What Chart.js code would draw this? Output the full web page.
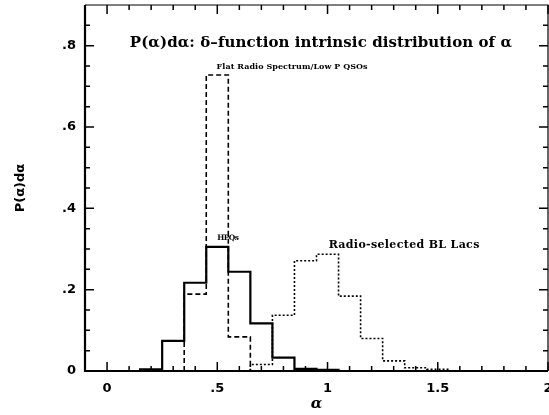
<!DOCTYPE html>
<html>
<head>
<meta charset="utf-8">
<script src="https://cdn.jsdelivr.net/npm/chart.js@4.4.0/dist/chart.umd.min.js"></script>
<style>
  html, body { margin: 0; padding: 0; background: #fff; }
</style>
</head>
<body>
<canvas id="myChart" width="549" height="415"></canvas>
<script>
const ctx = document.getElementById("myChart");

// histogram bins (left edges), width 0.1
const binLeft = [0.15, 0.25, 0.35, 0.45, 0.55, 0.65, 0.75, 0.85, 0.95, 1.05, 1.15, 1.25, 1.35, 1.45];
const binWidth = 0.1;

// values
const hpqValues  = [0.004, 0.074, 0.217, 0.305, 0.244, 0.117, 0.033, 0.005, 0.003, 0, 0, 0, 0, 0];
const flatValues = [0, 0, 0.189, 0.728, 0.084, 0, 0, 0, 0, 0, 0, 0, 0, 0];
const blLacValues = [0, 0, 0, 0, 0, 0.016, 0.137, 0.271, 0.287, 0.184, 0.080, 0.025, 0.008, 0.004];

const xTickValues = [0, 0.5, 1, 1.5, 2];
const xTickLabels = ["0", ".5", "1", "1.5", "2"];
const yTickValues = [0, 0.2, 0.4, 0.6, 0.8];
const yTickLabels = ["0", ".2", ".4", ".6", ".8"];

const titleText = "P(\u03b1)d\u03b1: \u03b4\u2013function intrinsic distribution of \u03b1";
const flatLabel = "Flat Radio Spectrum/Low P QSOs";
const hpqLabel = "HPQs";
const blLacLabel = "Radio-selected BL Lacs";

function histPoints(values) {
  let first = values.findIndex(v => v > 0);
  let last = values.length - 1;
  while (last > 0 && values[last] == 0) last--;
  let pts = [{ x: binLeft[first], y: 0 }];
  for (let i = first; i <= last; i++) {
    pts.push({ x: binLeft[i], y: values[i] });
  }
  pts.push({ x: binLeft[last] + binWidth, y: 0 });
  return pts;
}

// frame with inward ticks on all four sides
const frameTicks = {
  id: "frameTicks",
  afterDatasetsDraw(chart) {
    const c = chart.ctx;
    const a = chart.chartArea;
    const x = chart.scales.x;
    const y = chart.scales.y;
    c.save();
    c.strokeStyle = "#000";
    c.lineCap = "butt";

    c.lineWidth = 1.5;
    for (let i = 0; i <= 20; i++) {
      let px = x.getPixelForValue(i / 10);
      let len = (i % 5 == 0) ? 9 : 5;
      c.beginPath();
      c.moveTo(px, a.bottom); c.lineTo(px, a.bottom - len);
      c.moveTo(px, a.top); c.lineTo(px, a.top + len);
      c.stroke();
    }
    for (let i = 1; i <= 17; i++) {
      let py = y.getPixelForValue(i * 0.05);
      let len = (i % 4 == 0) ? 9 : 5;
      c.beginPath();
      c.moveTo(a.left, py); c.lineTo(a.left + len, py);
      c.moveTo(a.right, py); c.lineTo(a.right - len, py);
      c.stroke();
    }

    // top + right thinner, left + bottom heavier
    c.lineWidth = 1.2;
    c.beginPath();
    c.moveTo(a.left, a.top); c.lineTo(a.right, a.top); c.lineTo(a.right, a.bottom);
    c.stroke();
    c.lineWidth = 2.2;
    c.beginPath();
    c.moveTo(a.left, a.top); c.lineTo(a.left, a.bottom); c.lineTo(a.right, a.bottom);
    c.stroke();
    c.restore();
  }
};

// text labels placed in data coordinates, nudged to the width seen in the figure
const notes = [
  { text: titleText, x: 0.97, y: 0.807, align: "center", font: "bold 15px 'DejaVu Serif'", width: 382 },
  { text: flatLabel, x: 0.497, y: 0.748, align: "left", font: "bold 8px 'DejaVu Serif'", width: 151 },
  { text: hpqLabel, x: 0.50, y: 0.327, align: "left", font: "bold 7.5px 'DejaVu Serif'", width: 21 },
  { text: blLacLabel, x: 1.005, y: 0.31, align: "left", font: "bold 11px 'DejaVu Serif'", width: 151 }
];

const noteText = {
  id: "noteText",
  afterDraw(chart) {
    const c = chart.ctx;
    c.save();
    c.fillStyle = "#000";
    c.textBaseline = "middle";
    notes.forEach(n => {
      c.font = n.font;
      c.letterSpacing = "0px";
      let w = c.measureText(n.text).width;
      let sp = (n.width - w) / n.text.length;
      c.letterSpacing = sp.toFixed(2) + "px";
      c.textAlign = n.align;
      let px = chart.scales.x.getPixelForValue(n.x);
      if (n.align == "center") px += sp / 2;
      c.fillText(n.text, px, chart.scales.y.getPixelForValue(n.y));
    });
    c.restore();
  }
};

const config = {
  type: "line",
  data: {
    datasets: [
      {
        label: hpqLabel,
        data: histPoints(hpqValues),
        borderColor: "#000",
        borderWidth: 2.2,
        stepped: true,
        pointRadius: 0,
        fill: false
      },
      {
        label: flatLabel,
        data: histPoints(flatValues),
        borderColor: "#000",
        borderWidth: 1.6,
        borderDash: [5, 3],
        stepped: true,
        pointRadius: 0,
        fill: false
      },
      {
        label: blLacLabel,
        data: histPoints(blLacValues),
        borderColor: "#000",
        borderWidth: 1.6,
        borderDash: [2, 2],
        stepped: true,
        pointRadius: 0,
        fill: false
      }
    ]
  },
  options: {
    responsive: false,
    animation: false,
    devicePixelRatio: 1,
    layout: { padding: { top: 5, right: 1, left: 0, bottom: 0 } },
    plugins: {
      legend: { display: false },
      tooltip: { enabled: false }
    },
    scales: {
      x: {
        type: "linear",
        min: -0.1,
        max: 2,
        afterBuildTicks: s => { s.ticks = xTickValues.map(v => ({ value: v })); },
        afterFit: s => { s.height = 44; s.paddingLeft = 0; s.paddingRight = 0; },
        grid: { display: false, drawTicks: false },
        border: { display: false },
        ticks: {
          padding: 10,
          maxRotation: 0,
          color: "#000",
          font: { family: "DejaVu Sans", weight: "bold", size: 13 },
          callback: (v, i) => xTickLabels[i]
        },
        title: {
          display: true,
          text: "\u03b1",
          color: "#000",
          font: { family: "DejaVu Serif", weight: "bold", size: 15, style: "italic" },
          padding: { top: 0, bottom: 2 }
        }
      },
      y: {
        type: "linear",
        min: 0,
        max: 0.9,
        afterBuildTicks: s => { s.ticks = yTickValues.map(v => ({ value: v })); },
        afterFit: s => { s.width = 85; s.paddingTop = 0; s.paddingBottom = 0; },
        grid: { display: false, drawTicks: false },
        border: { display: false },
        ticks: {
          padding: 9,
          color: "#000",
          font: { family: "DejaVu Sans", weight: "bold", size: 13 },
          callback: (v, i) => yTickLabels[i]
        },
        title: {
          display: true,
          text: "P(\u03b1)d\u03b1",
          color: "#000",
          font: { family: "DejaVu Sans", weight: "bold", size: 13 },
          padding: { top: 13, bottom: 0 }
        }
      }
    }
  },
  plugins: [frameTicks, noteText]
};

const chart = new Chart(ctx, config);
</script>
</body>
</html>
